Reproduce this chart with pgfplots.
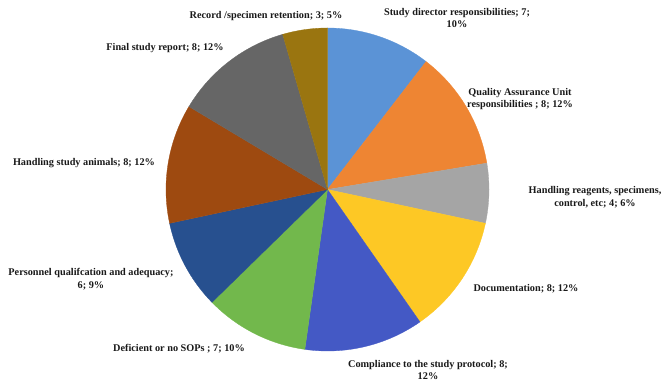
\documentclass[border=0pt]{standalone}
\usepackage{pgfplots}
\pgfplotsset{compat=1.18}
\usepackage{fontspec}
\setmainfont{Liberation Serif}
\definecolor{cSD}{HTML}{5B93D6}
\definecolor{cQA}{HTML}{EE8533}
\definecolor{cRG}{HTML}{A5A5A5}
\definecolor{cDC}{HTML}{FDC825}
\definecolor{cCP}{HTML}{4459C5}
\definecolor{cSP}{HTML}{72B84C}
\definecolor{cPS}{HTML}{27508F}
\definecolor{cAN}{HTML}{9E4A10}
\definecolor{cFR}{HTML}{666666}
\definecolor{cRR}{HTML}{9A7510}
% counts: 7, 8, 4, 8, 8, 7, 6, 8, 8, 3 (total 67); slice boundaries in degrees
% (counterclockwise from +x, slices run clockwise from the top)
\begin{document}
\begin{tikzpicture}
\begin{axis}[
  scale only axis, width=665bp, height=386bp,
  xmin=0, xmax=665, ymin=0, ymax=386,
  axis line style={draw=none}, ticks=none, clip=false,
  pie/.style={draw=#1, fill=#1, line width=0.3pt, samples=90, mark=none},
]
\addplot[pie=cSD, domain=52.39:90]   ({327.5+161.5*cos(x)},{196.5+161.5*sin(x)}) -- (axis cs:327.5,196.5) -- cycle;
\addplot[pie=cQA, domain=9.40:52.39] ({327.5+161.5*cos(x)},{196.5+161.5*sin(x)}) -- (axis cs:327.5,196.5) -- cycle;
\addplot[pie=cRG, domain=-12.09:9.40] ({327.5+161.5*cos(x)},{196.5+161.5*sin(x)}) -- (axis cs:327.5,196.5) -- cycle;
\addplot[pie=cDC, domain=-55.07:-12.09] ({327.5+161.5*cos(x)},{196.5+161.5*sin(x)}) -- (axis cs:327.5,196.5) -- cycle;
\addplot[pie=cCP, domain=-98.06:-55.07] ({327.5+161.5*cos(x)},{196.5+161.5*sin(x)}) -- (axis cs:327.5,196.5) -- cycle;
\addplot[pie=cSP, domain=-135.67:-98.06] ({327.5+161.5*cos(x)},{196.5+161.5*sin(x)}) -- (axis cs:327.5,196.5) -- cycle;
\addplot[pie=cPS, domain=-167.91:-135.67] ({327.5+161.5*cos(x)},{196.5+161.5*sin(x)}) -- (axis cs:327.5,196.5) -- cycle;
\addplot[pie=cAN, domain=-210.90:-167.91] ({327.5+161.5*cos(x)},{196.5+161.5*sin(x)}) -- (axis cs:327.5,196.5) -- cycle;
\addplot[pie=cFR, domain=-253.88:-210.90] ({327.5+161.5*cos(x)},{196.5+161.5*sin(x)}) -- (axis cs:327.5,196.5) -- cycle;
\addplot[pie=cRR, domain=-270:-253.88] ({327.5+161.5*cos(x)},{196.5+161.5*sin(x)}) -- (axis cs:327.5,196.5) -- cycle;
\tikzset{lab/.style={font=\fontsize{10.3}{12.6}\selectfont\bfseries, align=center, text=black!90, inner sep=0pt}}
\node[lab] at (axis cs:266,370) {Record /specimen retention; 3; 5\%};
\node[lab] at (axis cs:457,368) {Study director responsibilities; 7;\\10\%};
\node[lab] at (axis cs:520,287) {Quality Assurance Unit\\responsibilities ; 8; 12\%};
\node[lab] at (axis cs:595,189) {Handling reagents, specimens,\\control, etc; 4; 6\%};
\node[lab] at (axis cs:526,97) {Documentation; 8; 12\%};
\node[lab] at (axis cs:428,16) {Compliance to the study protocol; 8;\\12\%};
\node[lab] at (axis cs:179,37) {Deficient or no SOPs ; 7; 10\%};
\node[lab] at (axis cs:91,107) {Personnel qualifcation and adequacy;\\6; 9\%};
\node[lab] at (axis cs:84,223) {Handling study animals; 8; 12\%};
\node[lab] at (axis cs:165,338) {Final study report; 8; 12\%};
\end{axis}
\end{tikzpicture}
\end{document}
